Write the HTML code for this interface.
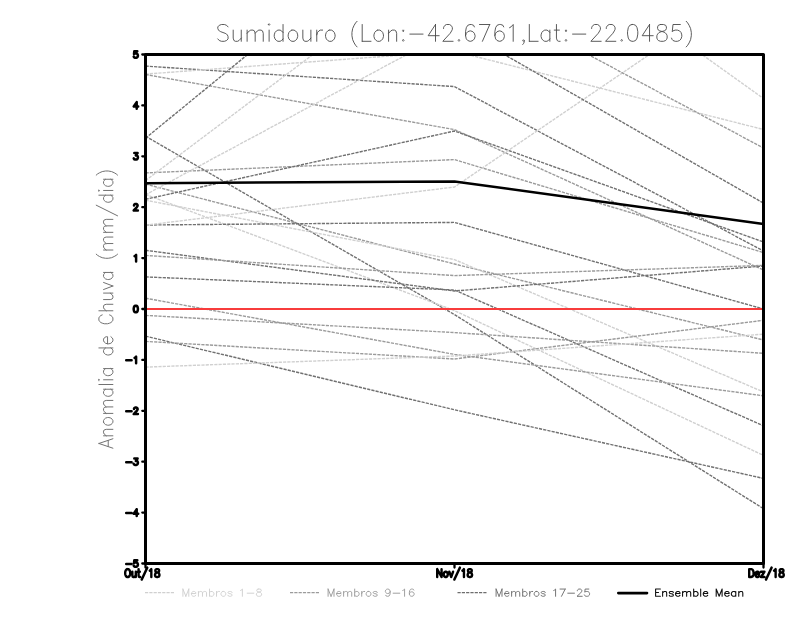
<!DOCTYPE html>
<html><head><meta charset="utf-8"><title>Sumidouro</title>
<style>
html,body{margin:0;padding:0;background:#fff;}
body{width:800px;height:618px;overflow:hidden;font-family:"Liberation Sans",sans-serif;}
svg{display:block}
.t path{fill:none;stroke-linecap:round;stroke-linejoin:round}
.m polyline,.m line{fill:none;stroke-width:1.4;stroke-dasharray:3.2 1.1}
</style></head><body>
<svg width="800" height="618" viewBox="0 0 800 618">
<rect width="800" height="618" fill="#fff"/>
<defs><clipPath id="c"><rect x="145.5" y="54.5" width="618" height="509"/></clipPath></defs>

<g class="m" clip-path="url(#c)">
<polyline stroke="#717171" points="145.5,66.1 454.5,86.6 763.5,251"/>
<polyline stroke="#d0d0d0" points="145.5,74.1 454.5,51.2 763.5,129.5"/>
<polyline stroke="#9b9b9b" points="145.5,74.5 454.5,129.6 763.5,270"/>
<polyline stroke="#717171" points="145.5,138.2 454.5,-115"/>
<polyline stroke="#717171" points="145.5,136.2 454.5,314.6 763.5,508.7"/>
<polyline stroke="#9b9b9b" points="145.5,172.9 454.5,159.6 763.5,252.6"/>
<polyline stroke="#d0d0d0" points="145.5,180.6 454.5,-52"/>
<polyline stroke="#9b9b9b" points="145.5,184.1 454.5,264 763.5,340"/>
<polyline stroke="#d0d0d0" points="145.5,194.8 454.5,29"/>
<polyline stroke="#d0d0d0" points="145.5,194.4 454.5,310.6 763.5,455.4"/>
<polyline stroke="#717171" points="145.5,199.3 454.5,131 763.5,242"/>
<polyline stroke="#d0d0d0" points="145.5,200.2 454.5,259.6 763.5,392"/>
<polyline stroke="#717171" points="145.5,225 454.5,222.4 763.5,309"/>
<polyline stroke="#d0d0d0" points="145.5,225.2 454.5,187 763.5,-23"/>
<polyline stroke="#717171" points="145.5,250.3 454.5,291 763.5,266"/>
<polyline stroke="#9b9b9b" points="145.5,255.4 454.5,275.6 763.5,265.4"/>
<polyline stroke="#717171" points="145.5,276.9 454.5,290 763.5,425.8"/>
<polyline stroke="#9b9b9b" points="145.5,298.2 454.5,354.4 763.5,395.8"/>
<polyline stroke="#9b9b9b" points="145.5,315.4 454.5,332.6 763.5,353.3"/>
<polyline stroke="#717171" points="145.5,336.1 454.5,409.8 763.5,478.4"/>
<polyline stroke="#9b9b9b" points="145.5,341.4 454.5,359 763.5,320.3"/>
<polyline stroke="#d0d0d0" points="145.5,367.1 454.5,356 763.5,334.2"/>
<polyline stroke="#d0d0d0" points="454.5,-122.5 763.5,98.6"/>
<polyline stroke="#9b9b9b" points="454.5,-16.7 763.5,148"/>
<polyline stroke="#717171" points="454.5,26 763.5,203.1"/>
</g>
<line x1="145.5" y1="309" x2="763.5" y2="309" stroke="#f83c3c" stroke-width="1.8"/>
<polyline fill="none" stroke="#000" stroke-width="2.5" stroke-linejoin="round" points="145.5,183.2 454.5,181.4 763.5,224"/>
<rect x="145.5" y="54.5" width="618" height="509" fill="none" stroke="#000" stroke-width="3" stroke-linejoin="round"/>
<path d="M142.3 563.5 H145M142.3 512.6 H145M142.3 461.7 H145M142.3 410.8 H145M142.3 359.9 H145M142.3 309 H145M142.3 258.1 H145M142.3 207.2 H145M142.3 156.3 H145M142.3 105.4 H145M142.3 54.5 H145M145.5 563.5 V567.6M454.5 563.5 V567.6M763.5 563.5 V567.6" stroke="#000" stroke-width="2.3" fill="none" stroke-linecap="round"/>
<g class="t">
<path transform="translate(125 566.78)" d="M1.2 -2.81L6.6 -2.81M12.3 -6.55L9.3 -6.55L9 -3.74L9.3 -4.06L10.2 -4.37L11.1 -4.37L12 -4.06L12.6 -3.43L12.9 -2.5L12.9 -1.87L12.6 -0.94L12 -0.31L11.1 0L10.2 0L9.3 -0.31L9 -0.62L8.7 -1.25" stroke="#000" stroke-width="2.5"/>
<path transform="translate(125 515.88)" d="M1.2 -2.81L6.6 -2.81M11.7 -6.55L8.7 -2.18L13.2 -2.18M11.7 -6.55L11.7 0" stroke="#000" stroke-width="2.5"/>
<path transform="translate(125 464.98)" d="M1.2 -2.81L6.6 -2.81M9.3 -6.55L12.6 -6.55L10.8 -4.06L11.7 -4.06L12.3 -3.74L12.6 -3.43L12.9 -2.5L12.9 -1.87L12.6 -0.94L12 -0.31L11.1 0L10.2 0L9.3 -0.31L9 -0.62L8.7 -1.25" stroke="#000" stroke-width="2.5"/>
<path transform="translate(125 414.08)" d="M1.2 -2.81L6.6 -2.81M9 -4.99L9 -5.3L9.3 -5.93L9.6 -6.24L10.2 -6.55L11.4 -6.55L12 -6.24L12.3 -5.93L12.6 -5.3L12.6 -4.68L12.3 -4.06L11.7 -3.12L8.7 0L12.9 0" stroke="#000" stroke-width="2.5"/>
<path transform="translate(125 363.18)" d="M1.2 -2.81L6.6 -2.81M9.6 -5.3L10.2 -5.62L11.1 -6.55L11.1 0" stroke="#000" stroke-width="2.5"/>
<path transform="translate(132.8 312.28)" d="M2.7 -6.55L1.8 -6.24L1.2 -5.3L0.9 -3.74L0.9 -2.81L1.2 -1.25L1.8 -0.31L2.7 0L3.3 0L4.2 -0.31L4.8 -1.25L5.1 -2.81L5.1 -3.74L4.8 -5.3L4.2 -6.24L3.3 -6.55L2.7 -6.55" stroke="#000" stroke-width="2.5"/>
<path transform="translate(132.8 261.38)" d="M1.8 -5.3L2.4 -5.62L3.3 -6.55L3.3 0" stroke="#000" stroke-width="2.5"/>
<path transform="translate(132.8 210.48)" d="M1.2 -4.99L1.2 -5.3L1.5 -5.93L1.8 -6.24L2.4 -6.55L3.6 -6.55L4.2 -6.24L4.5 -5.93L4.8 -5.3L4.8 -4.68L4.5 -4.06L3.9 -3.12L0.9 0L5.1 0" stroke="#000" stroke-width="2.5"/>
<path transform="translate(132.8 159.58)" d="M1.5 -6.55L4.8 -6.55L3 -4.06L3.9 -4.06L4.5 -3.74L4.8 -3.43L5.1 -2.5L5.1 -1.87L4.8 -0.94L4.2 -0.31L3.3 0L2.4 0L1.5 -0.31L1.2 -0.62L0.9 -1.25" stroke="#000" stroke-width="2.5"/>
<path transform="translate(132.8 108.68)" d="M3.9 -6.55L0.9 -2.18L5.4 -2.18M3.9 -6.55L3.9 0" stroke="#000" stroke-width="2.5"/>
<path transform="translate(132.8 57.78)" d="M4.5 -6.55L1.5 -6.55L1.2 -3.74L1.5 -4.06L2.4 -4.37L3.3 -4.37L4.2 -4.06L4.8 -3.43L5.1 -2.5L5.1 -1.87L4.8 -0.94L4.2 -0.31L3.3 0L2.4 0L1.5 -0.31L1.2 -0.62L0.9 -1.25" stroke="#000" stroke-width="2.5"/>
<path transform="translate(124.27 577)" d="M2.8 -7.88L2.18 -7.5L1.55 -6.75L1.24 -6L0.93 -4.88L0.93 -3L1.24 -1.88L1.55 -1.12L2.18 -0.38L2.8 0L4.04 0L4.67 -0.38L5.29 -1.12L5.6 -1.88L5.91 -3L5.91 -4.88L5.6 -6L5.29 -6.75L4.67 -7.5L4.04 -7.88L2.8 -7.88M8.09 -5.25L8.09 -1.5L8.4 -0.38L9.02 0L9.95 0L10.57 -0.38L11.51 -1.5M11.51 -5.25L11.51 0M14.31 -7.88L14.31 -1.5L14.62 -0.38L15.24 0L15.86 0M13.37 -5.25L15.55 -5.25M23.01 -9.38L17.42 2.62M25.5 -6.38L26.12 -6.75L27.06 -7.88L27.06 0M32.34 -7.88L31.41 -7.5L31.1 -6.75L31.1 -6L31.41 -5.25L32.03 -4.88L33.28 -4.5L34.21 -4.12L34.83 -3.38L35.14 -2.62L35.14 -1.5L34.83 -0.75L34.52 -0.38L33.59 0L32.34 0L31.41 -0.38L31.1 -0.75L30.79 -1.5L30.79 -2.62L31.1 -3.38L31.72 -4.12L32.66 -4.5L33.9 -4.88L34.52 -5.25L34.83 -6L34.83 -6.75L34.52 -7.5L33.59 -7.88L32.34 -7.88" stroke="#000" stroke-width="2.4"/>
<path transform="translate(435.96 577)" d="M1.24 -7.88L1.24 0M1.24 -7.88L5.6 0M5.6 -7.88L5.6 0M9.33 -5.25L8.71 -4.88L8.09 -4.12L7.78 -3L7.78 -2.25L8.09 -1.12L8.71 -0.38L9.33 0L10.26 0L10.88 -0.38L11.51 -1.12L11.82 -2.25L11.82 -3L11.51 -4.12L10.88 -4.88L10.26 -5.25L9.33 -5.25M13.37 -5.25L15.24 0M17.11 -5.25L15.24 0M23.95 -9.38L18.35 2.62M26.43 -6.38L27.06 -6.75L27.99 -7.88L27.99 0M33.28 -7.88L32.34 -7.5L32.03 -6.75L32.03 -6L32.34 -5.25L32.97 -4.88L34.21 -4.5L35.14 -4.12L35.77 -3.38L36.08 -2.62L36.08 -1.5L35.77 -0.75L35.45 -0.38L34.52 0L33.28 0L32.34 -0.38L32.03 -0.75L31.72 -1.5L31.72 -2.62L32.03 -3.38L32.66 -4.12L33.59 -4.5L34.83 -4.88L35.45 -5.25L35.77 -6L35.77 -6.75L35.45 -7.5L34.52 -7.88L33.28 -7.88" stroke="#000" stroke-width="2.4"/>
<path transform="translate(747.96 577)" d="M1.24 -7.88L1.24 0M1.24 -7.88L3.42 -7.88L4.35 -7.5L4.98 -6.75L5.29 -6L5.6 -4.88L5.6 -3L5.29 -1.88L4.98 -1.12L4.35 -0.38L3.42 0L1.24 0M7.46 -3L11.2 -3L11.2 -3.75L10.88 -4.5L10.57 -4.88L9.95 -5.25L9.02 -5.25L8.4 -4.88L7.78 -4.12L7.46 -3L7.46 -2.25L7.78 -1.12L8.4 -0.38L9.02 0L9.95 0L10.57 -0.38L11.2 -1.12M16.48 -5.25L13.06 0M13.06 -5.25L16.48 -5.25M13.06 0L16.48 0M23.64 -9.38L18.04 2.62M26.12 -6.38L26.75 -6.75L27.68 -7.88L27.68 0M32.97 -7.88L32.03 -7.5L31.72 -6.75L31.72 -6L32.03 -5.25L32.66 -4.88L33.9 -4.5L34.83 -4.12L35.45 -3.38L35.77 -2.62L35.77 -1.5L35.45 -0.75L35.14 -0.38L34.21 0L32.97 0L32.03 -0.38L31.72 -0.75L31.41 -1.5L31.41 -2.62L31.72 -3.38L32.34 -4.12L33.28 -4.5L34.52 -4.88L35.14 -5.25L35.45 -6L35.45 -6.75L35.14 -7.5L34.21 -7.88L32.97 -7.88" stroke="#000" stroke-width="2.4"/>
<path transform="translate(215.6 41.3)" d="M12.46 -14.4L10.99 -16L8.8 -16.8L5.86 -16.8L3.67 -16L2.2 -14.4L2.2 -12.8L2.93 -11.2L3.67 -10.4L5.13 -9.6L9.53 -8L10.99 -7.2L11.73 -6.4L12.46 -4.8L12.46 -2.4L10.99 -0.8L8.8 0L5.86 0L3.67 -0.8L2.2 -2.4M17.59 -11.2L17.59 -3.2L18.32 -0.8L19.79 0L21.99 0L23.46 -0.8L25.66 -3.2M25.66 -11.2L25.66 0M31.52 -11.2L31.52 0M31.52 -8L33.72 -10.4L35.18 -11.2L37.38 -11.2L38.85 -10.4L39.58 -8L39.58 0M39.58 -8L41.78 -10.4L43.25 -11.2L45.45 -11.2L46.91 -10.4L47.64 -8L47.64 0M52.78 -16.8L53.51 -16L54.24 -16.8L53.51 -17.6L52.78 -16.8M53.51 -11.2L53.51 0M67.44 -16.8L67.44 0M67.44 -8.8L65.97 -10.4L64.5 -11.2L62.3 -11.2L60.84 -10.4L59.37 -8.8L58.64 -6.4L58.64 -4.8L59.37 -2.4L60.84 -0.8L62.3 0L64.5 0L65.97 -0.8L67.44 -2.4M76.23 -11.2L74.77 -10.4L73.3 -8.8L72.57 -6.4L72.57 -4.8L73.3 -2.4L74.77 -0.8L76.23 0L78.43 0L79.9 -0.8L81.36 -2.4L82.1 -4.8L82.1 -6.4L81.36 -8.8L79.9 -10.4L78.43 -11.2L76.23 -11.2M87.23 -11.2L87.23 -3.2L87.96 -0.8L89.43 0L91.62 0L93.09 -0.8L95.29 -3.2M95.29 -11.2L95.29 0M101.15 -11.2L101.15 0M101.15 -6.4L101.89 -8.8L103.35 -10.4L104.82 -11.2L107.02 -11.2M113.61 -11.2L112.15 -10.4L110.68 -8.8L109.95 -6.4L109.95 -4.8L110.68 -2.4L112.15 -0.8L113.61 0L115.81 0L117.28 -0.8L118.75 -2.4L119.48 -4.8L119.48 -6.4L118.75 -8.8L117.28 -10.4L115.81 -11.2L113.61 -11.2M141.47 -20L140 -18.4L138.54 -16L137.07 -12.8L136.34 -8.8L136.34 -5.6L137.07 -1.6L138.54 1.6L140 4L141.47 5.6M146.6 -16.8L146.6 0M146.6 0L155.4 0M161.99 -11.2L160.53 -10.4L159.06 -8.8L158.33 -6.4L158.33 -4.8L159.06 -2.4L160.53 -0.8L161.99 0L164.19 0L165.66 -0.8L167.12 -2.4L167.86 -4.8L167.86 -6.4L167.12 -8.8L165.66 -10.4L164.19 -11.2L161.99 -11.2M172.99 -11.2L172.99 0M172.99 -8L175.19 -10.4L176.65 -11.2L178.85 -11.2L180.32 -10.4L181.05 -8L181.05 0M187.65 -11.2L186.91 -10.4L187.65 -9.6L188.38 -10.4L187.65 -11.2M187.65 -1.6L186.91 -0.8L187.65 0L188.38 -0.8L187.65 -1.6M194.25 -7.2L207.44 -7.2M219.9 -16.8L212.57 -5.6L223.56 -5.6M219.9 -16.8L219.9 0M227.96 -12.8L227.96 -13.6L228.7 -15.2L229.43 -16L230.89 -16.8L233.83 -16.8L235.29 -16L236.03 -15.2L236.76 -13.6L236.76 -12L236.03 -10.4L234.56 -8L227.23 0L237.49 0M243.36 -1.6L242.62 -0.8L243.36 0L244.09 -0.8L243.36 -1.6M258.75 -14.4L258.02 -16L255.82 -16.8L254.35 -16.8L252.15 -16L250.69 -13.6L249.95 -9.6L249.95 -5.6L250.69 -2.4L252.15 -0.8L254.35 0L255.08 0L257.28 -0.8L258.75 -2.4L259.48 -4.8L259.48 -5.6L258.75 -8L257.28 -9.6L255.08 -10.4L254.35 -10.4L252.15 -9.6L250.69 -8L249.95 -5.6M274.14 -16.8L266.81 0M263.88 -16.8L274.14 -16.8M288.07 -14.4L287.34 -16L285.14 -16.8L283.67 -16.8L281.47 -16L280.01 -13.6L279.27 -9.6L279.27 -5.6L280.01 -2.4L281.47 -0.8L283.67 0L284.4 0L286.6 -0.8L288.07 -2.4L288.8 -4.8L288.8 -5.6L288.07 -8L286.6 -9.6L284.4 -10.4L283.67 -10.4L281.47 -9.6L280.01 -8L279.27 -5.6M293.93 -13.6L295.4 -14.4L297.6 -16.8L297.6 0M308.59 -0.8L307.86 0L307.13 -0.8L307.86 -1.6L308.59 -0.8L308.59 0.8L307.86 2.4L307.13 3.2M313.72 -16.8L313.72 0M313.72 0L322.52 0M334.25 -11.2L334.25 0M334.25 -8.8L332.78 -10.4L331.32 -11.2L329.12 -11.2L327.65 -10.4L326.19 -8.8L325.45 -6.4L325.45 -4.8L326.19 -2.4L327.65 -0.8L329.12 0L331.32 0L332.78 -0.8L334.25 -2.4M340.84 -16.8L340.84 -3.2L341.58 -0.8L343.04 0L344.51 0M338.65 -11.2L343.78 -11.2M350.37 -11.2L349.64 -10.4L350.37 -9.6L351.11 -10.4L350.37 -11.2M350.37 -1.6L349.64 -0.8L350.37 0L351.11 -0.8L350.37 -1.6M356.97 -7.2L370.17 -7.2M376.03 -12.8L376.03 -13.6L376.76 -15.2L377.5 -16L378.96 -16.8L381.89 -16.8L383.36 -16L384.09 -15.2L384.82 -13.6L384.82 -12L384.09 -10.4L382.63 -8L375.3 0L385.56 0M390.69 -12.8L390.69 -13.6L391.42 -15.2L392.15 -16L393.62 -16.8L396.55 -16.8L398.02 -16L398.75 -15.2L399.49 -13.6L399.49 -12L398.75 -10.4L397.29 -8L389.96 0L400.22 0M406.08 -1.6L405.35 -0.8L406.08 0L406.81 -0.8L406.08 -1.6M416.34 -16.8L414.14 -16L412.68 -13.6L411.95 -9.6L411.95 -7.2L412.68 -3.2L414.14 -0.8L416.34 0L417.81 0L420.01 -0.8L421.47 -3.2L422.21 -7.2L422.21 -9.6L421.47 -13.6L420.01 -16L417.81 -16.8L416.34 -16.8M433.94 -16.8L426.61 -5.6L437.6 -5.6M433.94 -16.8L433.94 0M444.93 -16.8L442.73 -16L442 -14.4L442 -12.8L442.73 -11.2L444.2 -10.4L447.13 -9.6L449.33 -8.8L450.8 -7.2L451.53 -5.6L451.53 -3.2L450.8 -1.6L450.06 -0.8L447.86 0L444.93 0L442.73 -0.8L442 -1.6L441.27 -3.2L441.27 -5.6L442 -7.2L443.46 -8.8L445.66 -9.6L448.6 -10.4L450.06 -11.2L450.8 -12.8L450.8 -14.4L450.06 -16L447.86 -16.8L444.93 -16.8M464.72 -16.8L457.39 -16.8L456.66 -9.6L457.39 -10.4L459.59 -11.2L461.79 -11.2L463.99 -10.4L465.45 -8.8L466.19 -6.4L466.19 -4.8L465.45 -2.4L463.99 -0.8L461.79 0L459.59 0L457.39 -0.8L456.66 -1.6L455.93 -3.2M470.59 -20L472.05 -18.4L473.52 -16L474.98 -12.8L475.72 -8.8L475.72 -5.6L474.98 -1.6L473.52 1.6L472.05 4L470.59 5.6" stroke="#484848" stroke-width="0.9"/>
<path transform="translate(112.9 448.2) rotate(-90) translate(-0.59 0)" d="M5.31 -14.01L0.59 0M5.31 -14.01L10.03 0M2.36 -4.67L8.26 -4.67M12.98 -9.34L12.98 0M12.98 -6.67L14.74 -8.67L15.92 -9.34L17.69 -9.34L18.87 -8.67L19.46 -6.67L19.46 0M26.54 -9.34L25.36 -8.67L24.18 -7.34L23.59 -5.34L23.59 -4L24.18 -2L25.36 -0.67L26.54 0L28.31 0L29.49 -0.67L30.67 -2L31.26 -4L31.26 -5.34L30.67 -7.34L29.49 -8.67L28.31 -9.34L26.54 -9.34M35.39 -9.34L35.39 0M35.39 -6.67L37.16 -8.67L38.34 -9.34L40.11 -9.34L41.29 -8.67L41.88 -6.67L41.88 0M41.88 -6.67L43.65 -8.67L44.82 -9.34L46.59 -9.34L47.77 -8.67L48.36 -6.67L48.36 0M59.57 -9.34L59.57 0M59.57 -7.34L58.39 -8.67L57.21 -9.34L55.44 -9.34L54.26 -8.67L53.08 -7.34L52.49 -5.34L52.49 -4L53.08 -2L54.26 -0.67L55.44 0L57.21 0L58.39 -0.67L59.57 -2M64.29 -14.01L64.29 0M68.42 -14.01L69.01 -13.34L69.6 -14.01L69.01 -14.67L68.42 -14.01M69.01 -9.34L69.01 0M80.21 -9.34L80.21 0M80.21 -7.34L79.03 -8.67L77.85 -9.34L76.08 -9.34L74.9 -8.67L73.72 -7.34L73.14 -5.34L73.14 -4L73.72 -2L74.9 -0.67L76.08 0L77.85 0L79.03 -0.67L80.21 -2M100.86 -14.01L100.86 0M100.86 -7.34L99.68 -8.67L98.5 -9.34L96.73 -9.34L95.55 -8.67L94.37 -7.34L93.78 -5.34L93.78 -4L94.37 -2L95.55 -0.67L96.73 0L98.5 0L99.68 -0.67L100.86 -2M104.98 -5.34L112.06 -5.34L112.06 -6.67L111.47 -8L110.88 -8.67L109.7 -9.34L107.93 -9.34L106.75 -8.67L105.57 -7.34L104.98 -5.34L104.98 -4L105.57 -2L106.75 -0.67L107.93 0L109.7 0L110.88 -0.67L112.06 -2M133.88 -10.67L133.29 -12.01L132.12 -13.34L130.94 -14.01L128.58 -14.01L127.4 -13.34L126.22 -12.01L125.63 -10.67L125.04 -8.67L125.04 -5.34L125.63 -3.33L126.22 -2L127.4 -0.67L128.58 0L130.94 0L132.12 -0.67L133.29 -2L133.88 -3.33M138.01 -14.01L138.01 0M138.01 -6.67L139.78 -8.67L140.96 -9.34L142.73 -9.34L143.91 -8.67L144.5 -6.67L144.5 0M149.22 -9.34L149.22 -2.67L149.81 -0.67L150.99 0L152.76 0L153.94 -0.67L155.71 -2.67M155.71 -9.34L155.71 0M159.25 -9.34L162.78 0M166.32 -9.34L162.78 0M176.35 -9.34L176.35 0M176.35 -7.34L175.17 -8.67L173.99 -9.34L172.22 -9.34L171.04 -8.67L169.86 -7.34L169.27 -5.34L169.27 -4L169.86 -2L171.04 -0.67L172.22 0L173.99 0L175.17 -0.67L176.35 -2M194.63 -16.68L193.45 -15.34L192.27 -13.34L191.1 -10.67L190.51 -7.34L190.51 -4.67L191.1 -1.33L192.27 1.33L193.45 3.33L194.63 4.67M198.76 -9.34L198.76 0M198.76 -6.67L200.53 -8.67L201.71 -9.34L203.48 -9.34L204.66 -8.67L205.25 -6.67L205.25 0M205.25 -6.67L207.02 -8.67L208.2 -9.34L209.97 -9.34L211.15 -8.67L211.74 -6.67L211.74 0M216.46 -9.34L216.46 0M216.46 -6.67L218.23 -8.67L219.41 -9.34L221.17 -9.34L222.35 -8.67L222.94 -6.67L222.94 0M222.94 -6.67L224.71 -8.67L225.89 -9.34L227.66 -9.34L228.84 -8.67L229.43 -6.67L229.43 0M243.59 -16.68L232.97 4.67M253.61 -14.01L253.61 0M253.61 -7.34L252.43 -8.67L251.25 -9.34L249.49 -9.34L248.31 -8.67L247.13 -7.34L246.54 -5.34L246.54 -4L247.13 -2L248.31 -0.67L249.49 0L251.25 0L252.43 -0.67L253.61 -2M257.74 -14.01L258.33 -13.34L258.92 -14.01L258.33 -14.67L257.74 -14.01M258.33 -9.34L258.33 0M269.54 -9.34L269.54 0M269.54 -7.34L268.36 -8.67L267.18 -9.34L265.41 -9.34L264.23 -8.67L263.05 -7.34L262.46 -5.34L262.46 -4L263.05 -2L264.23 -0.67L265.41 0L267.18 0L268.36 -0.67L269.54 -2M273.67 -16.68L274.85 -15.34L276.03 -13.34L277.21 -10.67L277.8 -7.34L277.8 -4.67L277.21 -1.33L276.03 1.33L274.85 3.33L273.67 4.67" stroke="#727272" stroke-width="1.0"/>
<path transform="translate(181.42 596.3)" d="M1.48 -7.24L1.48 0M1.48 -7.24L4.43 0M7.39 -7.24L4.43 0M7.39 -7.24L7.39 0M9.98 -2.76L14.41 -2.76L14.41 -3.45L14.04 -4.14L13.67 -4.48L12.93 -4.83L11.82 -4.83L11.08 -4.48L10.35 -3.79L9.98 -2.76L9.98 -2.07L10.35 -1.03L11.08 -0.34L11.82 0L12.93 0L13.67 -0.34L14.41 -1.03M17 -4.83L17 0M17 -3.45L18.11 -4.48L18.84 -4.83L19.95 -4.83L20.69 -4.48L21.06 -3.45L21.06 0M21.06 -3.45L22.17 -4.48L22.91 -4.83L24.02 -4.83L24.76 -4.48L25.13 -3.45L25.13 0M28.08 -7.24L28.08 0M28.08 -3.79L28.82 -4.48L29.56 -4.83L30.67 -4.83L31.41 -4.48L32.15 -3.79L32.52 -2.76L32.52 -2.07L32.15 -1.03L31.41 -0.34L30.67 0L29.56 0L28.82 -0.34L28.08 -1.03M35.1 -4.83L35.1 0M35.1 -2.76L35.47 -3.79L36.21 -4.48L36.95 -4.83L38.06 -4.83M41.38 -4.83L40.64 -4.48L39.91 -3.79L39.54 -2.76L39.54 -2.07L39.91 -1.03L40.64 -0.34L41.38 0L42.49 0L43.23 -0.34L43.97 -1.03L44.34 -2.07L44.34 -2.76L43.97 -3.79L43.23 -4.48L42.49 -4.83L41.38 -4.83M50.62 -3.79L50.25 -4.48L49.14 -4.83L48.03 -4.83L46.93 -4.48L46.56 -3.79L46.93 -3.1L47.67 -2.76L49.51 -2.42L50.25 -2.07L50.62 -1.38L50.62 -1.03L50.25 -0.34L49.14 0L48.03 0L46.93 -0.34L46.56 -1.03M59.12 -5.86L59.86 -6.21L60.97 -7.24L60.97 0M65.77 -3.1L72.42 -3.1M76.86 -7.24L75.75 -6.9L75.38 -6.21L75.38 -5.52L75.75 -4.83L76.49 -4.48L77.96 -4.14L79.07 -3.79L79.81 -3.1L80.18 -2.42L80.18 -1.38L79.81 -0.69L79.44 -0.34L78.33 0L76.86 0L75.75 -0.34L75.38 -0.69L75.01 -1.38L75.01 -2.42L75.38 -3.1L76.12 -3.79L77.23 -4.14L78.7 -4.48L79.44 -4.83L79.81 -5.52L79.81 -6.21L79.44 -6.9L78.33 -7.24L76.86 -7.24" stroke="#d0d0d0" stroke-width="0.95"/>
<path transform="translate(326.62 596.3)" d="M1.48 -7.24L1.48 0M1.48 -7.24L4.43 0M7.39 -7.24L4.43 0M7.39 -7.24L7.39 0M9.98 -2.76L14.41 -2.76L14.41 -3.45L14.04 -4.14L13.67 -4.48L12.93 -4.83L11.82 -4.83L11.08 -4.48L10.35 -3.79L9.98 -2.76L9.98 -2.07L10.35 -1.03L11.08 -0.34L11.82 0L12.93 0L13.67 -0.34L14.41 -1.03M17 -4.83L17 0M17 -3.45L18.11 -4.48L18.84 -4.83L19.95 -4.83L20.69 -4.48L21.06 -3.45L21.06 0M21.06 -3.45L22.17 -4.48L22.91 -4.83L24.02 -4.83L24.76 -4.48L25.13 -3.45L25.13 0M28.08 -7.24L28.08 0M28.08 -3.79L28.82 -4.48L29.56 -4.83L30.67 -4.83L31.41 -4.48L32.15 -3.79L32.52 -2.76L32.52 -2.07L32.15 -1.03L31.41 -0.34L30.67 0L29.56 0L28.82 -0.34L28.08 -1.03M35.1 -4.83L35.1 0M35.1 -2.76L35.47 -3.79L36.21 -4.48L36.95 -4.83L38.06 -4.83M41.38 -4.83L40.64 -4.48L39.91 -3.79L39.54 -2.76L39.54 -2.07L39.91 -1.03L40.64 -0.34L41.38 0L42.49 0L43.23 -0.34L43.97 -1.03L44.34 -2.07L44.34 -2.76L43.97 -3.79L43.23 -4.48L42.49 -4.83L41.38 -4.83M50.62 -3.79L50.25 -4.48L49.14 -4.83L48.03 -4.83L46.93 -4.48L46.56 -3.79L46.93 -3.1L47.67 -2.76L49.51 -2.42L50.25 -2.07L50.62 -1.38L50.62 -1.03L50.25 -0.34L49.14 0L48.03 0L46.93 -0.34L46.56 -1.03M63.55 -4.83L63.18 -3.79L62.45 -3.1L61.34 -2.76L60.97 -2.76L59.86 -3.1L59.12 -3.79L58.75 -4.83L58.75 -5.17L59.12 -6.21L59.86 -6.9L60.97 -7.24L61.34 -7.24L62.45 -6.9L63.18 -6.21L63.55 -4.83L63.55 -3.1L63.18 -1.38L62.45 -0.34L61.34 0L60.6 0L59.49 -0.34L59.12 -1.03M66.51 -3.1L73.16 -3.1M76.12 -5.86L76.86 -6.21L77.96 -7.24L77.96 0M87.2 -6.21L86.83 -6.9L85.72 -7.24L84.98 -7.24L83.88 -6.9L83.14 -5.86L82.77 -4.14L82.77 -2.42L83.14 -1.03L83.88 -0.34L84.98 0L85.35 0L86.46 -0.34L87.2 -1.03L87.57 -2.07L87.57 -2.42L87.2 -3.45L86.46 -4.14L85.35 -4.48L84.98 -4.48L83.88 -4.14L83.14 -3.45L82.77 -2.42" stroke="#9b9b9b" stroke-width="0.95"/>
<path transform="translate(494.62 596.3)" d="M1.48 -7.24L1.48 0M1.48 -7.24L4.43 0M7.39 -7.24L4.43 0M7.39 -7.24L7.39 0M9.98 -2.76L14.41 -2.76L14.41 -3.45L14.04 -4.14L13.67 -4.48L12.93 -4.83L11.82 -4.83L11.08 -4.48L10.35 -3.79L9.98 -2.76L9.98 -2.07L10.35 -1.03L11.08 -0.34L11.82 0L12.93 0L13.67 -0.34L14.41 -1.03M17 -4.83L17 0M17 -3.45L18.11 -4.48L18.84 -4.83L19.95 -4.83L20.69 -4.48L21.06 -3.45L21.06 0M21.06 -3.45L22.17 -4.48L22.91 -4.83L24.02 -4.83L24.76 -4.48L25.13 -3.45L25.13 0M28.08 -7.24L28.08 0M28.08 -3.79L28.82 -4.48L29.56 -4.83L30.67 -4.83L31.41 -4.48L32.15 -3.79L32.52 -2.76L32.52 -2.07L32.15 -1.03L31.41 -0.34L30.67 0L29.56 0L28.82 -0.34L28.08 -1.03M35.1 -4.83L35.1 0M35.1 -2.76L35.47 -3.79L36.21 -4.48L36.95 -4.83L38.06 -4.83M41.38 -4.83L40.64 -4.48L39.91 -3.79L39.54 -2.76L39.54 -2.07L39.91 -1.03L40.64 -0.34L41.38 0L42.49 0L43.23 -0.34L43.97 -1.03L44.34 -2.07L44.34 -2.76L43.97 -3.79L43.23 -4.48L42.49 -4.83L41.38 -4.83M50.62 -3.79L50.25 -4.48L49.14 -4.83L48.03 -4.83L46.93 -4.48L46.56 -3.79L46.93 -3.1L47.67 -2.76L49.51 -2.42L50.25 -2.07L50.62 -1.38L50.62 -1.03L50.25 -0.34L49.14 0L48.03 0L46.93 -0.34L46.56 -1.03M59.12 -5.86L59.86 -6.21L60.97 -7.24L60.97 0M70.57 -7.24L66.88 0M65.4 -7.24L70.57 -7.24M73.16 -3.1L79.81 -3.1M82.77 -5.52L82.77 -5.86L83.14 -6.55L83.51 -6.9L84.25 -7.24L85.72 -7.24L86.46 -6.9L86.83 -6.55L87.2 -5.86L87.2 -5.17L86.83 -4.48L86.09 -3.45L82.4 0L87.57 0M94.22 -7.24L90.53 -7.24L90.16 -4.14L90.53 -4.48L91.64 -4.83L92.74 -4.83L93.85 -4.48L94.59 -3.79L94.96 -2.76L94.96 -2.07L94.59 -1.03L93.85 -0.34L92.74 0L91.64 0L90.53 -0.34L90.16 -0.69L89.79 -1.38" stroke="#6e6e6e" stroke-width="0.95"/>
<path transform="translate(654.12 596.3)" d="M1.48 -7.24L1.48 0M1.48 -7.24L6.28 -7.24M1.48 -3.79L4.43 -3.79M1.48 0L6.28 0M8.5 -4.83L8.5 0M8.5 -3.45L9.61 -4.48L10.35 -4.83L11.45 -4.83L12.19 -4.48L12.56 -3.45L12.56 0M19.21 -3.79L18.84 -4.48L17.74 -4.83L16.63 -4.83L15.52 -4.48L15.15 -3.79L15.52 -3.1L16.26 -2.76L18.11 -2.42L18.84 -2.07L19.21 -1.38L19.21 -1.03L18.84 -0.34L17.74 0L16.63 0L15.52 -0.34L15.15 -1.03M21.43 -2.76L25.86 -2.76L25.86 -3.45L25.5 -4.14L25.13 -4.48L24.39 -4.83L23.28 -4.83L22.54 -4.48L21.8 -3.79L21.43 -2.76L21.43 -2.07L21.8 -1.03L22.54 -0.34L23.28 0L24.39 0L25.13 -0.34L25.86 -1.03M28.45 -4.83L28.45 0M28.45 -3.45L29.56 -4.48L30.3 -4.83L31.41 -4.83L32.15 -4.48L32.52 -3.45L32.52 0M32.52 -3.45L33.62 -4.48L34.36 -4.83L35.47 -4.83L36.21 -4.48L36.58 -3.45L36.58 0M39.54 -7.24L39.54 0M39.54 -3.79L40.28 -4.48L41.01 -4.83L42.12 -4.83L42.86 -4.48L43.6 -3.79L43.97 -2.76L43.97 -2.07L43.6 -1.03L42.86 -0.34L42.12 0L41.01 0L40.28 -0.34L39.54 -1.03M46.56 -7.24L46.56 0M49.14 -2.76L53.58 -2.76L53.58 -3.45L53.21 -4.14L52.84 -4.48L52.1 -4.83L50.99 -4.83L50.25 -4.48L49.51 -3.79L49.14 -2.76L49.14 -2.07L49.51 -1.03L50.25 -0.34L50.99 0L52.1 0L52.84 -0.34L53.58 -1.03M62.08 -7.24L62.08 0M62.08 -7.24L65.03 0M67.99 -7.24L65.03 0M67.99 -7.24L67.99 0M70.57 -2.76L75.01 -2.76L75.01 -3.45L74.64 -4.14L74.27 -4.48L73.53 -4.83L72.42 -4.83L71.68 -4.48L70.94 -3.79L70.57 -2.76L70.57 -2.07L70.94 -1.03L71.68 -0.34L72.42 0L73.53 0L74.27 -0.34L75.01 -1.03M81.66 -4.83L81.66 0M81.66 -3.79L80.92 -4.48L80.18 -4.83L79.07 -4.83L78.33 -4.48L77.59 -3.79L77.23 -2.76L77.23 -2.07L77.59 -1.03L78.33 -0.34L79.07 0L80.18 0L80.92 -0.34L81.66 -1.03M84.62 -4.83L84.62 0M84.62 -3.45L85.72 -4.48L86.46 -4.83L87.57 -4.83L88.31 -4.48L88.68 -3.45L88.68 0" stroke="#111" stroke-width="1.1"/>
</g>
<g class="m" style="stroke-width:1.1"><line x1="145" y1="592.6" x2="174.5" y2="592.6" stroke="#d0d0d0" stroke-width="1.1"/><line x1="290" y1="592.6" x2="320" y2="592.6" stroke="#9b9b9b" stroke-width="1.1"/><line x1="457.5" y1="592.6" x2="487" y2="592.6" stroke="#6e6e6e" stroke-width="1.1"/></g>
<line x1="618.3" y1="593.1" x2="647" y2="593.1" stroke="#000" stroke-width="2.6" stroke-linecap="round"/>
</svg></body></html>
